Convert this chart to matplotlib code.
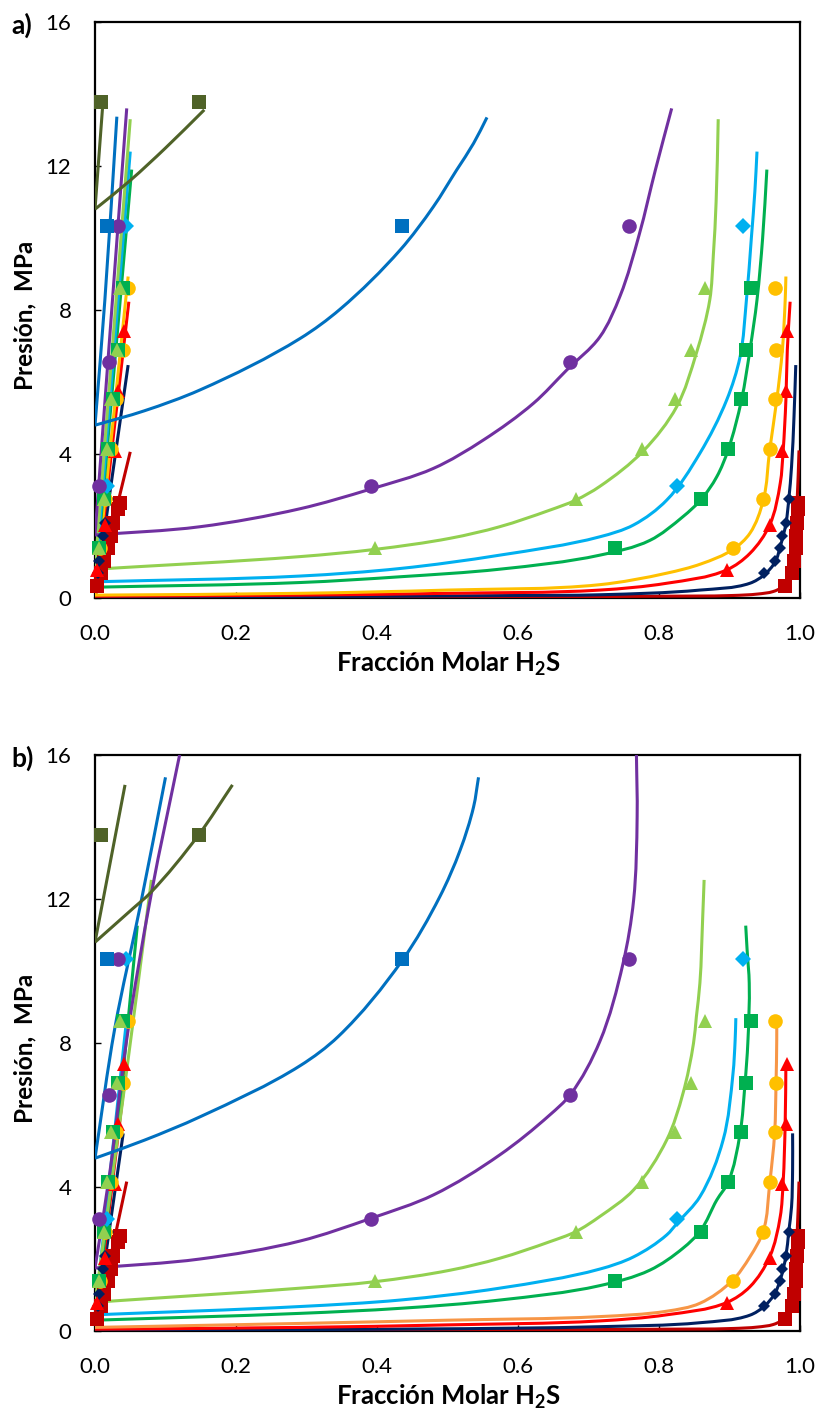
import matplotlib
matplotlib.use("Agg")
import numpy as np
import matplotlib.pyplot as plt
from matplotlib.path import Path
from matplotlib.patches import PathPatch

plt.rcParams['font.family'] = ['Lato', 'DejaVu Sans']
plt.rcParams['mathtext.fontset'] = 'custom'
plt.rcParams['mathtext.rm'] = 'Lato'
plt.rcParams['mathtext.bf'] = 'Lato:bold'

# ---------------------------------------------------------------------------
# Experimental data (pressure in MPa, H2S mole fraction in liquid and vapour)
# ---------------------------------------------------------------------------
T1_p = [0.34, 0.69, 1.03, 1.38, 1.72, 2.07, 2.48, 2.65]
T1_x = [0.003, 0.009, 0.013, 0.018, 0.022, 0.026, 0.032, 0.036]
T1_y = [0.979, 0.989, 0.992, 0.994, 0.995, 0.996, 0.997, 0.997]

T2_p = [0.69, 1.03, 1.38, 1.72, 2.07, 2.76]
T2_x = [0.004, 0.006, 0.009, 0.011, 0.014, 0.019]
T2_y = [0.949, 0.965, 0.972, 0.975, 0.980, 0.984]

T3_p = [0.78, 2.03, 4.07, 5.75, 7.41]
T3_x = [0.003, 0.014, 0.028, 0.033, 0.041]
T3_y = [0.896, 0.957, 0.975, 0.980, 0.981]

T4_p = [1.38, 2.76, 4.14, 5.52, 6.89, 8.62]
T4_x = [0.007, 0.014, 0.022, 0.030, 0.040, 0.047]
T4_y = [0.905, 0.948, 0.957, 0.965, 0.966, 0.965]

T5_p = [1.38, 2.76, 4.14, 5.52, 6.89, 8.62]
T5_x = [0.006, 0.013, 0.019, 0.025, 0.033, 0.040]
T5_y = [0.738, 0.859, 0.898, 0.916, 0.924, 0.930]

T6_p = [3.10, 10.34]
T6_x = [0.017, 0.044]
T6_y = [0.826, 0.919]

T7_p = [1.38, 2.76, 4.14, 5.52, 6.89, 8.62]
T7_x = [0.005, 0.013, 0.0175, 0.023, 0.031, 0.036]
T7_y = [0.397, 0.682, 0.776, 0.823, 0.846, 0.865]

T8_p = [3.10, 6.55, 10.34]
T8_x = [0.006, 0.020, 0.032]
T8_y = [0.392, 0.674, 0.758]

T9_p = [10.34]
T9_x = [0.017]
T9_y = [0.436]

T10_p = [13.79]
T10_x = [0.009]
T10_y = [0.147]

# ---------------------------------------------------------------------------
# Model curves, panel a: (x H2S, P MPa) for liquid and vapour branches
# ---------------------------------------------------------------------------
a_T1_liq = [(0, 0.02), (0.05, 4.06)]
a_T1_vap = [(0, 0.01), (0.3, 0.015), (0.6, 0.03), (0.8, 0.05), (0.905, 0.07),
            (0.94, 0.11), (0.962, 0.18), (0.975, 0.30), (0.981, 0.41),
            (0.986, 0.65), (0.988, 0.87), (0.991, 1.3), (0.993, 1.8),
            (0.996, 2.72), (0.9986, 4.1)]

a_T2_liq = [(0, 0.03), (0.047, 6.47)]
a_T2_vap = [(0, 0.03), (0.3, 0.04), (0.6, 0.07), (0.716, 0.09), (0.858, 0.22),
            (0.929, 0.41), (0.949, 0.64), (0.965, 1.01), (0.972, 1.43),
            (0.98, 2.06), (0.984, 2.72), (0.988, 3.65), (0.9915, 5.04),
            (0.994, 6.47)]

a_T3_liq = [(0, 0.05), (0.048, 8.23)]
a_T3_vap = [(0, 0.05), (0.291, 0.08), (0.5, 0.13), (0.716, 0.22), (0.811, 0.41),
            (0.896, 0.78), (0.929, 1.24), (0.957, 2.03), (0.972, 3.19),
            (0.976, 4.06), (0.98, 5.5), (0.982, 6.89), (0.986, 8.23)]

a_T4_liq = [(0, 0.08), (0.047, 8.93)]
a_T4_vap = [(0, 0.08), (0.291, 0.13), (0.5, 0.22), (0.716, 0.37), (0.811, 0.69),
            (0.86, 0.95), (0.905, 1.35), (0.929, 1.8), (0.948, 2.72),
            (0.957, 4.11), (0.967, 5.5), (0.975, 6.89), (0.979, 8.28),
            (0.98, 8.93)]

a_T5_liq = [(0, 0.30), (0.052, 11.9)]
a_T5_vap = [(0, 0.30), (0.291, 0.43), (0.433, 0.59), (0.574, 0.80), (0.716, 1.19),
            (0.787, 1.60), (0.834, 2.26), (0.859, 2.72), (0.882, 3.37),
            (0.898, 4.11), (0.917, 5.5), (0.929, 6.89), (0.939, 8.28),
            (0.947, 10.0), (0.953, 11.9)]

a_T6_liq = [(0, 0.45), (0.05, 12.4)]
a_T6_vap = [(0, 0.45), (0.291, 0.61), (0.433, 0.82), (0.574, 1.19), (0.716, 1.70),
            (0.764, 2.03), (0.811, 2.72), (0.858, 4.02), (0.896, 5.5),
            (0.915, 6.7), (0.924, 8.28), (0.931, 10.0), (0.936, 11.3),
            (0.939, 12.4)]

a_T7_liq = [(0, 0.80), (0.05, 13.3)]
a_T7_vap = [(0, 0.80), (0.291, 1.15), (0.397, 1.35), (0.504, 1.66), (0.574, 1.98),
            (0.645, 2.44), (0.682, 2.72), (0.716, 3.10), (0.778, 4.09),
            (0.825, 5.31), (0.853, 6.8), (0.872, 8.28), (0.877, 9.5),
            (0.881, 11.0), (0.884, 13.3)]

a_T8_liq = [(0, 1.75), (0.045, 13.6)]
a_T8_vap = [(0, 1.75), (0.149, 1.98), (0.291, 2.48), (0.39, 3.02), (0.48, 3.6),
            (0.551, 4.39), (0.622, 5.41), (0.669, 6.33), (0.716, 7.25),
            (0.745, 8.4), (0.772, 10.1), (0.795, 11.9), (0.818, 13.6)]

a_T9_liq = [(0, 4.8), (0.014, 8.28), (0.031, 13.37)]
a_T9_vap = [(0, 4.8), (0.07, 5.2), (0.149, 5.78), (0.291, 7.21), (0.3475, 8.02),
            (0.433, 9.67), (0.48, 10.87), (0.513, 11.89), (0.537, 12.63),
            (0.556, 13.35)]

a_T10_liq = [(0, 10.8), (0.011, 13.7)]
a_T10_vap = [(0, 10.8), (0.05, 11.6), (0.1, 12.5), (0.155, 13.56)]

# ---------------------------------------------------------------------------
# Model curves, panel b
# ---------------------------------------------------------------------------
b_T1_liq = [(0, 0.02), (0.045, 4.15)]
b_T1_vap = [(0, 0.01), (0.3, 0.015), (0.6, 0.03), (0.8, 0.05), (0.905, 0.07),
            (0.94, 0.11), (0.962, 0.18), (0.975, 0.30), (0.981, 0.41),
            (0.986, 0.65), (0.988, 0.87), (0.991, 1.3), (0.993, 1.8),
            (0.996, 2.72), (0.9986, 4.15)]

b_T2_liq = [(0, 0.03), (0.04, 5.49)]
b_T2_vap = [(0, 0.03), (0.3, 0.04), (0.6, 0.08), (0.716, 0.12), (0.858, 0.23),
            (0.929, 0.44), (0.949, 0.68), (0.964, 1.03), (0.972, 1.42),
            (0.98, 2.08), (0.984, 2.76), (0.988, 3.45), (0.9895, 4.5),
            (0.9895, 5.49)]

b_T3_liq = [(0, 0.05), (0.045, 7.45)]
b_T3_vap = [(0, 0.05), (0.291, 0.10), (0.5, 0.17), (0.716, 0.28), (0.811, 0.45),
            (0.896, 0.79), (0.929, 1.23), (0.957, 2.06), (0.972, 3.18),
            (0.976, 4.1), (0.979, 5.8), (0.98, 7.45)]

b_T4_liq = [(0, 0.10), (0.046, 8.62)]
b_T4_vap = [(0, 0.10), (0.291, 0.21), (0.5, 0.30), (0.716, 0.40), (0.811, 0.55),
            (0.858, 0.77), (0.904, 1.4), (0.929, 2.06), (0.948, 2.78),
            (0.957, 4.1), (0.964, 5.49), (0.966, 6.88), (0.967, 8.08),
            (0.967, 8.62)]

b_T5_liq = [(0, 0.30), (0.03, 5.3), (0.06, 11.26)]
b_T5_vap = [(0, 0.30), (0.291, 0.49), (0.433, 0.63), (0.574, 0.86), (0.716, 1.26),
            (0.787, 1.69), (0.834, 2.3), (0.859, 2.79), (0.882, 3.64),
            (0.898, 4.13), (0.915, 5.49), (0.922, 6.88), (0.926, 8.0),
            (0.928, 9.66), (0.925, 10.58), (0.923, 11.26)]

b_T6_liq = [(0, 0.45), (0.045, 8.69)]
b_T6_vap = [(0, 0.45), (0.291, 0.68), (0.433, 0.86), (0.574, 1.19), (0.716, 1.72),
            (0.764, 2.06), (0.811, 2.67), (0.826, 3.0), (0.858, 3.73),
            (0.891, 5.31), (0.905, 7.16), (0.908, 8.08), (0.909, 8.69)]

b_T7_liq = [(0, 0.80), (0.04, 6.5), (0.08, 12.53)]
b_T7_vap = [(0, 0.80), (0.291, 1.19), (0.397, 1.37), (0.504, 1.69), (0.574, 2.02),
            (0.645, 2.48), (0.682, 2.76), (0.716, 3.18), (0.764, 3.92),
            (0.811, 5.31), (0.834, 6.6), (0.849, 8.0), (0.853, 8.73),
            (0.858, 9.66), (0.862, 11.5), (0.864, 12.53)]

b_T8_liq = [(0, 1.75), (0.021, 4.4), (0.045, 8.1), (0.08, 12.16), (0.12, 16.0)]
b_T8_vap = [(0, 1.75), (0.149, 2.0), (0.291, 2.5), (0.3915, 3.13), (0.48, 3.78),
            (0.574, 4.89), (0.645, 6.0), (0.674, 6.56), (0.716, 8.04),
            (0.749, 10.21), (0.764, 11.97), (0.769, 14.29), (0.768, 16.0)]

b_T9_liq = [(0, 4.8), (0.028, 8.4), (0.064, 11.79), (0.1, 15.38)]
b_T9_vap = [(0, 4.8), (0.07, 5.3), (0.149, 5.95), (0.291, 7.37), (0.345, 8.18),
            (0.436, 10.3), (0.489, 12.06), (0.518, 13.36), (0.537, 14.56),
            (0.544, 15.38)]

b_T10_liq = [(0, 10.8), (0.0426, 15.17)]
b_T10_vap = [(0, 10.8), (0.054, 11.74), (0.078, 12.16), (0.147, 13.78),
             (0.195, 15.17)]

# ---------------------------------------------------------------------------
# Styles for each isotherm
# ---------------------------------------------------------------------------
line_colors_a = ['#C00000', '#002060', '#FF0000', '#FFC000', '#00B050',
                 '#00B0F0', '#92D050', '#7030A0', '#0070C0', '#4F6228']
line_colors_b = ['#C00000', '#002060', '#FF0000', '#F79646', '#00B050',
                 '#00B0F0', '#92D050', '#7030A0', '#0070C0', '#4F6228']
marker_colors = ['#C00000', '#002060', '#FF0000', '#FFC000', '#00B050',
                 '#00B0F0', '#92D050', '#7030A0', '#0070C0', '#4F6228']
marker_shapes = ['s', 'D', '^', 'o', 's', 'D', '^', 'o', 's', 's']
marker_sizes = [9.5, 6.5, 10.0, 10.5, 10.0, 8.5, 10.0, 10.5, 10.0, 10.0]

exp_sets = [(T1_p, T1_x, T1_y), (T2_p, T2_x, T2_y), (T3_p, T3_x, T3_y),
            (T4_p, T4_x, T4_y), (T5_p, T5_x, T5_y), (T6_p, T6_x, T6_y),
            (T7_p, T7_x, T7_y), (T8_p, T8_x, T8_y), (T9_p, T9_x, T9_y),
            (T10_p, T10_x, T10_y)]

curves_a = [(a_T1_liq, a_T1_vap), (a_T2_liq, a_T2_vap), (a_T3_liq, a_T3_vap),
            (a_T4_liq, a_T4_vap), (a_T5_liq, a_T5_vap), (a_T6_liq, a_T6_vap),
            (a_T7_liq, a_T7_vap), (a_T8_liq, a_T8_vap), (a_T9_liq, a_T9_vap),
            (a_T10_liq, a_T10_vap)]
curves_b = [(b_T1_liq, b_T1_vap), (b_T2_liq, b_T2_vap), (b_T3_liq, b_T3_vap),
            (b_T4_liq, b_T4_vap), (b_T5_liq, b_T5_vap), (b_T6_liq, b_T6_vap),
            (b_T7_liq, b_T7_vap), (b_T8_liq, b_T8_vap), (b_T9_liq, b_T9_vap),
            (b_T10_liq, b_T10_vap)]

x_ticks = [0.0, 0.2, 0.4, 0.6, 0.8, 1.0]
y_ticks = [0, 4, 8, 12, 16]

W, H = 821, 1414
fig = plt.figure(figsize=(W / 100, H / 100), dpi=100)


def px_axes(left, top, right, bottom):
    return fig.add_axes([left / W, 1 - bottom / H, (right - left) / W,
                         (bottom - top) / H])


def _unit(v):
    n = np.hypot(v[0], v[1])
    return v / n if n > 0 else v


def smoothed_line(ax, pts, color):
    """Smoothed line through the points: cubic Bezier segments whose tangents
    bisect neighbouring chords (computed in screen space)."""
    disp = ax.transData.transform(np.asarray(pts, dtype=float))
    n = len(disp)
    verts = [disp[0]]
    codes = [Path.MOVETO]
    if n < 3:
        verts.append(disp[-1])
        codes.append(Path.LINETO)
    else:
        seg = [disp[i + 1] - disp[i] for i in range(n - 1)]
        useg = [_unit(s) for s in seg]
        tang = [useg[0]]
        for i in range(1, n - 1):
            tang.append(_unit(useg[i - 1] + useg[i]))
        tang.append(useg[-1])
        for i in range(n - 1):
            h = np.hypot(*seg[i]) / 3.0
            verts += [disp[i] + tang[i] * h, disp[i + 1] - tang[i + 1] * h,
                      disp[i + 1]]
            codes += [Path.CURVE4] * 3
    data_verts = ax.transData.inverted().transform(np.asarray(verts))
    patch = PathPatch(Path(data_verts, codes), fill=False, edgecolor=color,
                      lw=2.2, capstyle='butt', joinstyle='round', zorder=3)
    ax.add_patch(patch)


def draw_panel(ax, curves, line_colors):
    ax.set_xlim(0, 1)
    ax.set_ylim(0, 16)
    for (liq, vap), c in zip(curves, line_colors):
        smoothed_line(ax, liq, c)
        smoothed_line(ax, vap, c)
    for (p, xl, yv), c, m, ms in zip(exp_sets, marker_colors, marker_shapes,
                                     marker_sizes):
        ax.plot(xl, p, ls='none', marker=m, ms=ms, mfc=c, mec=c, mew=0,
                zorder=4, clip_on=False)
        ax.plot(yv, p, ls='none', marker=m, ms=ms, mfc=c, mec=c, mew=0,
                zorder=4, clip_on=False)
    ax.set_xticks(x_ticks)
    ax.set_xticklabels([f'{v:.1f}' for v in x_ticks])
    ax.set_yticks(y_ticks)
    ax.set_yticklabels([str(v) for v in y_ticks])
    ax.tick_params(axis='both', direction='in', length=4, width=1,
                   labelsize=16, colors='black')
    ax.tick_params(axis='x', pad=19)
    ax.tick_params(axis='y', pad=17)
    for s in ax.spines.values():
        s.set_linewidth(1.6)
        s.set_color('black')


ax_a = px_axes(95, 22, 800, 598)
draw_panel(ax_a, curves_a, line_colors_a)
ax_b = px_axes(95, 755, 800, 1331)
draw_panel(ax_b, curves_b, line_colors_b)

xlabel = r'Fracción Molar H$_{\mathbf{2}}$S'
ylabel = 'Presión,  MPa'
for top, bottom, tag in ((22, 598, 'a)'), (755, 1331, 'b)')):
    fig.text(449 / W, 1 - (bottom + 66) / H, xlabel, ha='center', va='center',
             fontsize=18.5, fontweight='bold')
    fig.text(25 / W, 1 - ((top + bottom) / 2 + 5) / H, ylabel, rotation=90,
             ha='center', va='center', fontsize=17.5, fontweight='bold')
    fig.text(11 / W, 1 - (top + 12) / H, tag, ha='left', va='baseline',
             fontsize=19, fontweight='bold')

fig.savefig('out.png', dpi=100, facecolor='white')
